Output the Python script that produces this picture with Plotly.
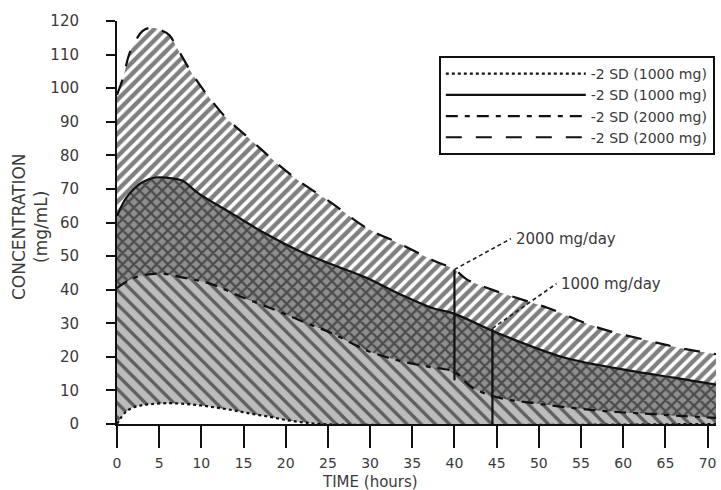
import plotly.graph_objects as go

# ---- data ----
T_U2 = [0, 0.7, 1.5, 2.3, 3, 4, 5, 6.2, 7, 9, 11, 13, 15, 17, 19, 21.5, 25.5, 29.5, 33.5, 37.5, 40, 41.5, 45, 51, 57, 63, 67, 71]
C_U2 = [98, 103, 110.5, 114.5, 117, 118, 117.5, 115.8, 112.5, 104, 97, 91, 86.5, 82, 77.5, 72.5, 65.7, 58.5, 53.7, 48.7, 46, 43, 39.5, 34.6, 28.7, 24.8, 22.5, 20.8]

T_L2 = [0, 2, 5, 8, 11, 15, 19, 22, 25.5, 29.5, 33.5, 37, 40, 42, 45, 50, 57, 63, 71]
C_L2 = [40.5, 43.5, 44.8, 43.5, 41.8, 37.6, 33.7, 30.5, 27, 22, 18.8, 17, 15.5, 11, 8, 6, 4, 3, 1.8]

T_U1 = [0, 1, 2, 3, 4.5, 6, 7.7, 9.7, 13.6, 17.6, 21.6, 25.5, 29.5, 33.4, 37.3, 40, 45.3, 53, 61, 66, 71]
C_U1 = [62, 67, 70, 72, 73.4, 73.3, 72.5, 68.6, 62.7, 56.7, 51.5, 47.5, 43.6, 38.8, 34.6, 32.8, 26.9, 19.8, 15.8, 13.8, 11.7]

T_L1 = [0, 1, 2, 3, 4, 6, 8, 10, 12, 14, 16, 18, 20, 22, 24, 71]
C_L1 = [0, 3.5, 5, 5.6, 5.9, 6.2, 6, 5.5, 4.8, 4, 3, 2.2, 1.2, 0.5, 0, 0]

MARK_T = [40, 44.5]
MARK_LO = [13, 0]
MARK_HI = [46, 28.5]

LABELS = ["2000 mg/day", "1000 mg/day"]
LABEL_X = [47.0, 52.4]
LABEL_Y = [55.2, 41.8]

LEGEND_NAMES = ["-2 SD (1000 mg)", "-2 SD (1000 mg)", "-2 SD (2000 mg)", "-2 SD (2000 mg)"]

X_TICKS = list(range(0, 75, 5))
Y_TICKS = list(range(0, 130, 10))

FONT = "DejaVu Sans, Liberation Sans, sans-serif"
TXT = "#3a3a3a"

fig = go.Figure()

# 2000 mg band ("/" hatch)
fig.add_trace(go.Scatter(x=T_L2, y=C_L2, mode="lines", line=dict(width=0, shape="spline"),
                         showlegend=False, hoverinfo="skip"))
fig.add_trace(go.Scatter(x=T_U2, y=C_U2, mode="lines", line=dict(width=0, shape="spline"),
                         fill="tonexty", fillcolor="white",
                         fillpattern=dict(shape="/", bgcolor="white", fgcolor="#000000", size=8, solidity=0.55),
                         showlegend=False, hoverinfo="skip"))
# 1000 mg band ("\" hatch on grey)
fig.add_trace(go.Scatter(x=T_L1, y=C_L1, mode="lines", line=dict(width=0, shape="spline"),
                         showlegend=False, hoverinfo="skip"))
fig.add_trace(go.Scatter(x=T_U1, y=C_U1, mode="lines", line=dict(width=0, shape="spline"),
                         fill="tonexty", fillcolor="#b5b5b5",
                         fillpattern=dict(shape="\\", bgcolor="#bcbcbc", fgcolor="#000000", size=10, solidity=0.33),
                         showlegend=False, hoverinfo="skip"))
# overlap (cross hatch)
fig.add_trace(go.Scatter(x=T_L2, y=C_L2, mode="lines", line=dict(width=0, shape="spline"),
                         showlegend=False, hoverinfo="skip"))
fig.add_trace(go.Scatter(x=T_U1, y=C_U1, mode="lines", line=dict(width=0, shape="spline"),
                         fill="tonexty", fillcolor="#666666",
                         fillpattern=dict(shape="x", bgcolor="#8e8e8e", fgcolor="#0a0a0a", size=8, solidity=0.5),
                         showlegend=False, hoverinfo="skip"))

# boundary curves (legend)
styles = [
    (T_L1, C_L1, "dot"),
    (T_U1, C_U1, "solid"),
    (T_L2, C_L2, "12px,7px,5px,7px"),
    (T_U2, C_U2, "16px,14px"),
]
for (tx, cy, dash), name in zip(styles, LEGEND_NAMES):
    fig.add_trace(go.Scatter(x=tx, y=cy, mode="lines", name=name,
                             line=dict(color="#111111", width=2.2, dash=dash, shape="spline"),
                             hoverinfo="skip"))

# vertical markers
for t, lo, hi in zip(MARK_T, MARK_LO, MARK_HI):
    fig.add_trace(go.Scatter(x=[t, t], y=[lo, hi], mode="lines",
                             line=dict(color="#111111", width=2.2), showlegend=False, hoverinfo="skip"))

# labels with dashed leaders
for lab, lx, ly, t, hi in zip(LABELS, LABEL_X, LABEL_Y, MARK_T, MARK_HI):
    fig.add_shape(type="line", x0=t, y0=hi, x1=lx - 0.3, y1=ly, xref="x", yref="y",
                  line=dict(color="#222222", width=1.6, dash="4px,3px"))
    fig.add_annotation(x=lx, y=ly, xref="x", yref="y", text=lab, showarrow=False,
                       xanchor="left", yanchor="middle", font=dict(family=FONT, size=15, color=TXT))

# axis titles
fig.add_annotation(x=30, y=-0.143, xref="x", yref="paper", text="TIME (hours)", showarrow=False,
                   xanchor="center", yanchor="middle", font=dict(family=FONT, size=15, color=TXT))
fig.add_annotation(x=-0.146, y=0.49, xref="paper", yref="paper", text="CONCENTRATION<br>(mg/mL)",
                   showarrow=False, textangle=-90, xanchor="center", yanchor="middle",
                   font=dict(family=FONT, size=17, color=TXT))

fig.update_layout(
    width=721, height=490,
    margin=dict(l=117, r=5, t=21, b=66),
    paper_bgcolor="white", plot_bgcolor="white",
    font=dict(family=FONT, color=TXT),
    legend=dict(x=0.998, y=0.913, xanchor="right", yanchor="top", traceorder="normal",
                bgcolor="white", bordercolor="#111111", borderwidth=2,
                font=dict(family=FONT, size=14, color=TXT), itemwidth=140,
                tracegroupgap=0),
    xaxis=dict(range=[0, 71], tickvals=X_TICKS, ticks="outside", ticklen=22, tickwidth=2,
               tickcolor="#111111", showline=True, linecolor="#111111", linewidth=2,
               showgrid=False, zeroline=False, ticklabelstandoff=3, automargin=False,
               tickfont=dict(family=FONT, size=14, color=TXT)),
    yaxis=dict(range=[0, 120], tickvals=Y_TICKS, ticks="outside", ticklen=9, tickwidth=2,
               tickcolor="#111111", showline=True, linecolor="#111111", linewidth=2,
               showgrid=False, zeroline=False, ticklabelstandoff=24, automargin=False,
               tickfont=dict(family=FONT, size=15, color=TXT)),
)

fig.write_html("out.html", config={"displayModeBar": False},
               post_script="document.body.style.margin='0';document.body.style.overflow='hidden';")
